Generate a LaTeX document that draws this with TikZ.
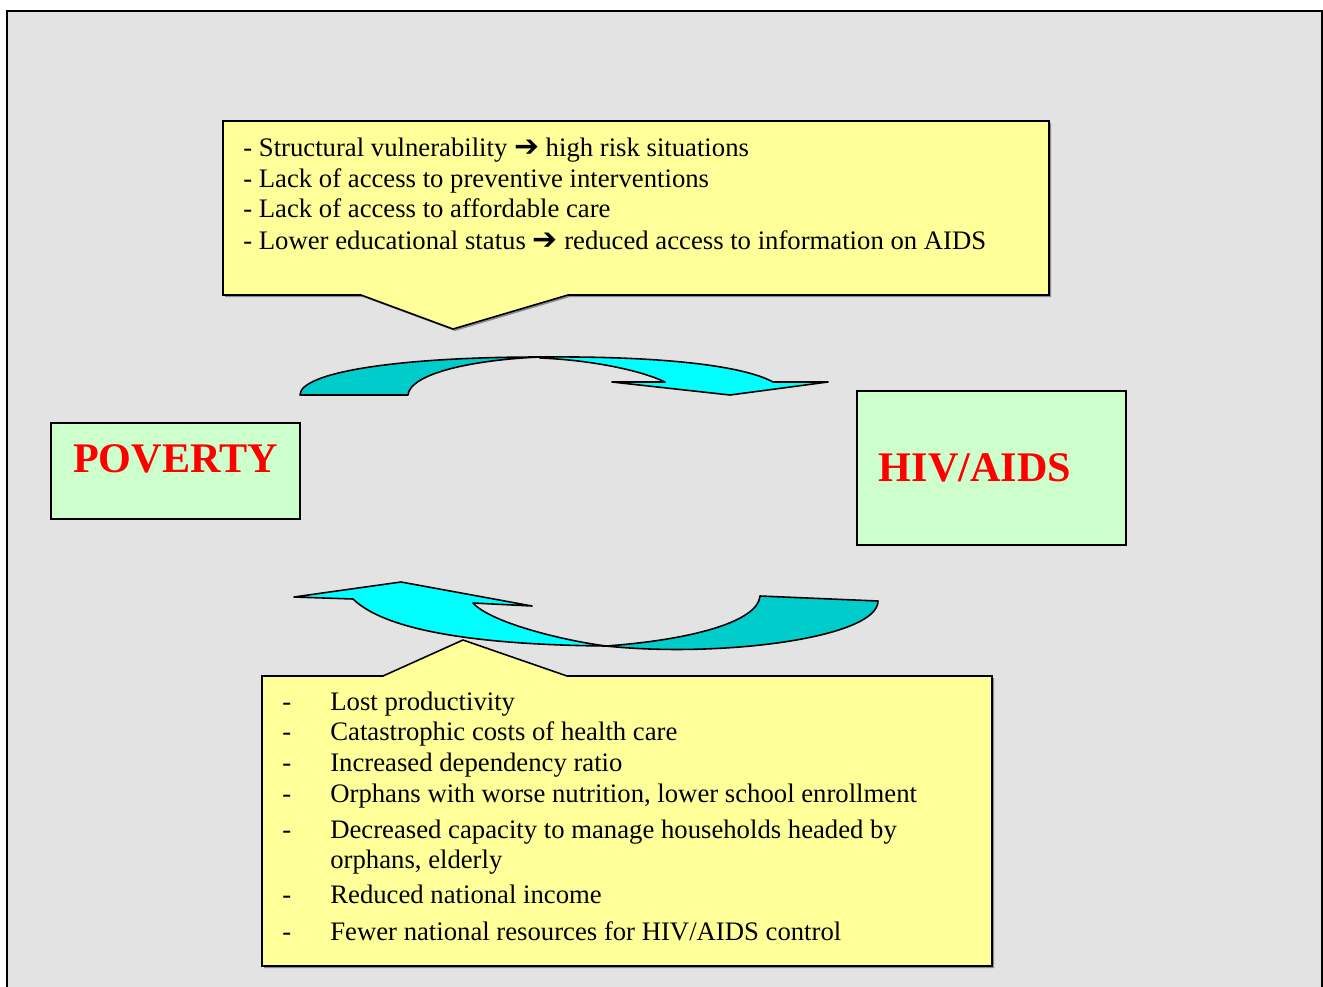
\documentclass[tikz,border=0pt]{standalone}
\usepackage{fontspec}
\setmainfont{Liberation Serif}
\newfontfamily\arrowfont{DejaVu Sans}
\usetikzlibrary{positioning}

\definecolor{framegray}{HTML}{E3E3E3}
\definecolor{noteyellow}{HTML}{FFFF99}
\definecolor{boxgreen}{HTML}{CCFFCC}
\definecolor{arrowcyan}{HTML}{00FFFF}
\definecolor{arrowteal}{HTML}{00CCCC}

\newcommand{\causearrow}{{\arrowfont\fontsize{17}{17}\selectfont\raisebox{-0.5pt}{➔}}}

\tikzset{
  listline/.style={anchor=base west, inner sep=0pt, font=\fontsize{15.2}{17}\selectfont},
  bigbox/.style={draw, line width=0.9pt, fill=boxgreen, inner sep=0pt},
  bigword/.style={inner sep=0pt, text=red, font=\fontsize{24}{28}\selectfont\bfseries},
  note/.style={draw, line width=0.9pt, fill=noteyellow},
  loopband/.style={draw=black, line width=0.9pt, line join=round}
}

\begin{document}
\begin{tikzpicture}[x=0.02cm,y=-0.02cm]
\useasboundingbox (0,0) rectangle (1323,987);
\fill[framegray] (7,11) rectangle (1322,987);
\draw[line width=1.2pt] (7,987) -- (7,11) -- (1322,11) -- (1322,987);

% boxes
\node[bigbox, minimum width=4.98cm, minimum height=1.92cm] (poverty) at (175.5,471) {};
\node[bigbox, minimum width=5.38cm, minimum height=3.08cm] (hiv) at (991.5,468) {};
\node[bigword] (povertylabel) at ([yshift=0.24cm]poverty.center) {POVERTY};
\node[bigword] (hivlabel) at ([xshift=-0.33cm]hiv.center) {HIV/AIDS};

% callout above
\fill[black!45] (225,123) -- (1051,123) -- (1051,297) -- (570,297) -- (455,331) -- (363,297) -- (225,297) -- cycle;
\draw[note] (223,121) -- (1049,121) -- (1049,295) -- (568,295) -- (453,329) -- (361,295) -- (223,295) -- cycle;
\node[listline] (c1) at (243,156) {- Structural vulnerability \causearrow\ high risk situations};
\node[listline] (c2) at (243,187) {- Lack of access to preventive interventions};
\node[listline] (c3) at (243,217) {- Lack of access to affordable care};
\node[listline] (c4) at (243,249) {- Lower educational status \causearrow\ reduced access to information on AIDS};

% callout below
\fill[black!45] (264,678) -- (385,678) -- (465,642) -- (569,678) -- (994,678) -- (994,968) -- (264,968) -- cycle;
\draw[note] (262,676) -- (383,676) -- (463,640) -- (567,676) -- (992,676) -- (992,966) -- (262,966) -- cycle;
\foreach \n/\yy/\txt in {1/710/{Lost productivity},
                         2/740/{Catastrophic costs of health care},
                         3/771/{Increased dependency ratio},
                         4/802/{Orphans with worse nutrition, lower school enrollment},
                         5/838/{Decreased capacity to manage households headed by},
                         6/868/{orphans, elderly},
                         7/903/{Reduced national income},
                         8/940/{Fewer national resources for HIV/AIDS control}} {
\node[listline] (e\n) at (330,\yy) {\txt};
}
\foreach \n/\yy in {1/710,2/740,3/771,4/802,5/838,7/903,8/940} {
\node[listline] (d\n) at (282,\yy) {-};
}

% curved arrow poverty -> hiv
\fill[arrowteal, loopband] (300,395) .. controls (300,372) and (400,357) .. (540,357)
  .. controls (470,360) and (410,374) .. (408,395) -- cycle;
\fill[arrowcyan, loopband] (540,357) .. controls (650,356) and (740,364) .. (773,382)
  -- (828,382) -- (730,395) -- (612,382) -- (665,382)
  .. controls (640,370) and (590,360) .. (540,358) -- cycle;

% curved arrow hiv -> poverty
\fill[arrowcyan, loopband] (353,599) .. controls (390,635) and (500,645) .. (606,646)
  .. controls (560,640) and (490,622) .. (473,603) -- (532,606) -- (401,582) -- (294,597) -- cycle;
\fill[arrowteal, loopband] (606,646) .. controls (690,640) and (758,622) .. (760,596)
  -- (878,601) .. controls (878,638) and (720,658) .. (606,646) -- cycle;
\end{tikzpicture}
\end{document}
